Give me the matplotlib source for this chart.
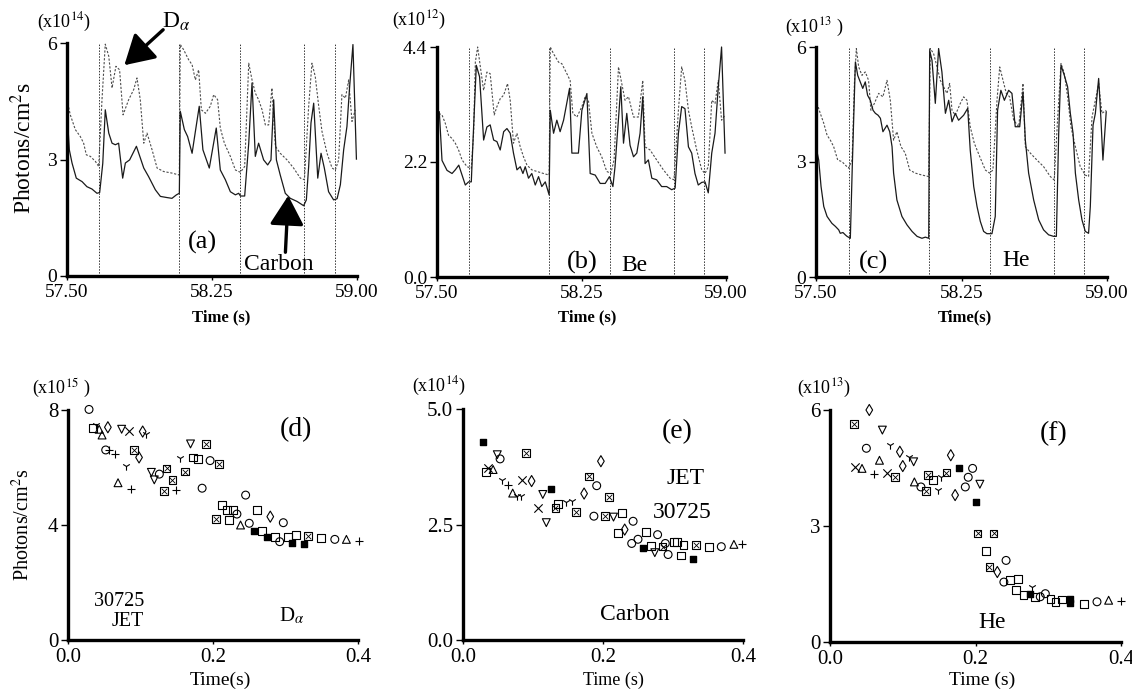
import matplotlib
matplotlib.use("Agg")
import matplotlib.pyplot as plt

plt.rcParams['font.family'] = ['Liberation Serif', 'DejaVu Serif']
plt.rcParams['mathtext.fontset'] = 'stix'

# ELM times (dotted vertical markers), same for all three top panels
elm_times = [57.668, 58.080, 58.396, 58.728, 58.884]

# (a) D-alpha (dotted) and carbon (solid), x1e14
a_solid_t = [57.500, 57.512, 57.526, 57.548, 57.578, 57.603, 57.629, 57.655, 57.669, 57.685, 57.698,
             57.716, 57.733, 57.750, 57.767, 57.788, 57.802, 57.824, 57.859, 57.897, 57.922, 57.957,
             57.983, 58.017, 58.043, 58.066, 58.081, 58.086, 58.107, 58.124, 58.147, 58.164, 58.184,
             58.203, 58.236, 58.272, 58.293, 58.319, 58.345, 58.371, 58.388, 58.397, 58.419, 58.440,
             58.457, 58.474, 58.491, 58.517, 58.538, 58.555, 58.569, 58.583, 58.603, 58.629, 58.655,
             58.690, 58.724, 58.738, 58.750, 58.762, 58.776, 58.797, 58.814, 58.831, 58.853, 58.879,
             58.897, 58.914, 58.931, 58.948, 58.962, 58.979, 58.997]
a_solid_v = [4.24, 3.25, 2.91, 2.52, 2.43, 2.30, 2.24, 2.13, 2.15, 2.90, 4.28,
             3.68, 3.42, 3.38, 3.42, 2.52, 2.91, 2.99, 3.34, 2.78, 2.56, 2.22,
             2.05, 2.02, 2.00, 2.09, 2.13, 4.24, 3.77, 3.59, 3.16, 3.72, 4.37,
             3.25, 2.78, 3.81, 2.73, 2.48, 2.17, 2.09, 2.13, 2.06, 2.06, 3.42,
             4.97, 3.08, 3.42, 2.99, 2.86, 2.99, 4.54, 2.99, 2.60, 2.13, 2.00,
             1.92, 1.81, 1.96, 2.82, 3.94, 4.45, 2.52, 3.16, 2.78, 2.17, 1.96,
             1.99, 2.35, 3.25, 3.85, 4.88, 5.96, 3.01]
a_dot_t = [57.500, 57.517, 57.543, 57.569, 57.586, 57.600, 57.621, 57.647, 57.664, 57.681, 57.698,
           57.716, 57.733, 57.753, 57.772, 57.790, 57.819, 57.845, 57.862, 57.879, 57.897, 57.914,
           57.940, 57.966, 58.000, 58.043, 58.081, 58.086, 58.103, 58.129, 58.147, 58.164, 58.181,
           58.195, 58.216, 58.241, 58.259, 58.279, 58.293, 58.314, 58.345, 58.371, 58.397, 58.419,
           58.440, 58.457, 58.474, 58.491, 58.509, 58.526, 58.543, 58.560, 58.578, 58.603, 58.638,
           58.672, 58.707, 58.728, 58.750, 58.767, 58.784, 58.802, 58.819, 58.845, 58.871, 58.888,
           58.905, 58.922, 58.940, 58.957, 58.974, 58.991]
a_dot_v = [4.54, 4.15, 3.77, 3.59, 3.42, 3.12, 3.08, 2.95, 2.82, 4.54, 5.97,
           5.66, 4.84, 5.40, 5.31, 4.15, 4.54, 4.80, 5.10, 4.54, 3.42, 3.68,
           3.25, 2.78, 2.69, 2.65, 2.60, 5.96, 5.83, 5.57, 5.44, 5.05, 5.31,
           4.28, 4.19, 4.37, 4.67, 4.54, 3.81, 3.42, 3.08, 2.73, 2.67, 2.82,
           5.48, 5.05, 4.71, 4.54, 4.28, 3.89, 3.89, 4.84, 3.34, 3.16, 2.99,
           2.78, 2.52, 2.48, 4.37, 5.48, 5.14, 4.37, 3.72, 3.16, 2.78, 2.73,
           2.99, 4.67, 4.58, 5.05, 3.98, 4.28]

# (b) Be, x1e12
b_solid_t = [57.512, 57.526, 57.552, 57.578, 57.595, 57.613, 57.630, 57.647, 57.664, 57.678, 57.690,
             57.704, 57.721, 57.742, 57.759, 57.776, 57.794, 57.811, 57.828, 57.846, 57.863, 57.880,
             57.897, 57.915, 57.932, 57.946, 57.958, 57.975, 57.992, 58.010, 58.027, 58.044, 58.062,
             58.082, 58.088, 58.105, 58.122, 58.139, 58.157, 58.188, 58.200, 58.234, 58.252, 58.278,
             58.295, 58.321, 58.347, 58.373, 58.395, 58.413, 58.424, 58.454, 58.468, 58.485, 58.502,
             58.520, 58.537, 58.554, 58.568, 58.580, 58.597, 58.615, 58.640, 58.666, 58.692, 58.718,
             58.736, 58.753, 58.770, 58.787, 58.805, 58.822, 58.839, 58.856, 58.874, 58.891, 58.908,
             58.926, 58.943, 58.960, 58.977, 58.995]
b_solid_v = [3.16, 2.23, 2.04, 1.98, 2.05, 2.14, 1.95, 1.76, 1.82, 1.82, 2.87,
             4.05, 3.83, 2.62, 2.87, 2.91, 2.62, 2.59, 2.43, 2.78, 2.84, 2.75,
             2.37, 2.05, 2.11, 1.98, 2.11, 1.89, 1.98, 1.76, 1.92, 1.73, 1.82,
             1.57, 3.19, 2.75, 3.00, 2.78, 3.00, 3.61, 2.37, 2.37, 3.19, 3.51,
             1.98, 1.95, 1.79, 1.79, 1.92, 1.73, 2.11, 3.64, 2.56, 3.13, 2.52,
             2.30, 2.37, 2.75, 3.45, 2.17, 2.24, 1.89, 1.86, 1.73, 1.73, 1.67,
             1.70, 2.75, 3.26, 3.22, 2.49, 2.37, 1.98, 1.76, 1.81, 1.82, 1.61,
             2.37, 2.75, 3.64, 4.40, 2.37]
b_dot_t = [57.509, 57.526, 57.543, 57.560, 57.578, 57.595, 57.612, 57.630, 57.656, 57.678, 57.690,
           57.699, 57.711, 57.725, 57.742, 57.759, 57.776, 57.797, 57.811, 57.828, 57.846, 57.866,
           57.880, 57.897, 57.915, 57.932, 57.949, 57.967, 57.992, 58.018, 58.053, 58.082, 58.088,
           58.105, 58.131, 58.148, 58.174, 58.191, 58.205, 58.226, 58.252, 58.269, 58.286, 58.304,
           58.329, 58.355, 58.381, 58.402, 58.419, 58.442, 58.459, 58.476, 58.494, 58.520, 58.545,
           58.568, 58.580, 58.606, 58.640, 58.675, 58.710, 58.730, 58.753, 58.770, 58.787, 58.805,
           58.822, 58.848, 58.874, 58.891, 58.908, 58.926, 58.943, 58.960, 58.977, 58.995]
b_dot_v = [3.13, 3.10, 2.94, 2.71, 2.65, 2.56, 2.43, 2.24, 2.11, 2.08, 2.75,
           4.11, 4.40, 4.02, 3.57, 3.92, 3.89, 3.10, 3.26, 3.41, 3.48, 3.70,
           3.38, 2.56, 2.75, 2.49, 2.30, 2.14, 2.05, 2.02, 1.98, 1.95, 4.40,
           4.27, 4.11, 4.08, 3.89, 3.76, 3.13, 3.06, 3.26, 3.45, 3.38, 2.75,
           2.49, 2.30, 2.02, 1.98, 2.24, 4.02, 3.70, 3.38, 3.45, 3.06, 3.06,
           3.76, 2.49, 2.43, 2.24, 2.05, 1.89, 1.86, 3.19, 4.02, 3.76, 3.19,
           2.87, 2.43, 2.05, 1.98, 2.11, 3.38, 3.32, 3.76, 3.00, 3.10]

# (c) He, x1e13
c_solid_t = [57.505, 57.514, 57.526, 57.540, 57.557, 57.582, 57.600, 57.617, 57.625, 57.639, 57.651,
             57.660, 57.677, 57.687, 57.703, 57.715, 57.728, 57.741, 57.754, 57.766, 57.780, 57.794,
             57.806, 57.820, 57.832, 57.845, 57.866, 57.880, 57.892, 57.900, 57.917, 57.943, 57.969,
             57.995, 58.021, 58.046, 58.064, 58.081, 58.086, 58.098, 58.115, 58.132, 58.149, 58.167,
             58.184, 58.201, 58.218, 58.235, 58.261, 58.282, 58.295, 58.313, 58.330, 58.347, 58.364,
             58.381, 58.407, 58.424, 58.436, 58.453, 58.471, 58.493, 58.510, 58.527, 58.550, 58.567,
             58.579, 58.596, 58.622, 58.648, 58.673, 58.699, 58.725, 58.739, 58.751, 58.763, 58.780,
             58.797, 58.811, 58.825, 58.837, 58.854, 58.871, 58.888, 58.905, 58.914, 58.928, 58.940,
             58.957, 58.969, 58.979, 58.996]
c_solid_v = [3.27, 3.05, 2.36, 1.84, 1.58, 1.40, 1.32, 1.23, 1.14, 1.16, 1.10,
             1.06, 1.01, 2.88, 5.61, 5.26, 5.09, 4.92, 5.09, 4.74, 4.61, 4.35,
             4.27, 4.22, 4.14, 3.79, 3.96, 3.79, 3.40, 2.71, 2.01, 1.58, 1.36,
             1.19, 1.06, 1.01, 1.04, 1.01, 5.91, 5.65, 4.53, 5.96, 5.35, 4.27,
             4.61, 4.05, 4.27, 4.09, 4.22, 4.40, 3.31, 2.36, 1.84, 1.45, 1.19,
             1.13, 1.13, 1.58, 4.35, 4.87, 4.61, 4.87, 4.79, 3.92, 3.92, 4.83,
             3.57, 2.71, 2.01, 1.49, 1.23, 1.10, 1.06, 1.06, 3.75, 5.52, 5.26,
             4.96, 4.27, 3.75, 2.71, 2.01, 1.49, 1.19, 1.14, 1.84, 3.96, 4.27,
             5.18, 4.09, 3.05, 4.31]
c_dot_t = [57.505, 57.522, 57.540, 57.557, 57.574, 57.591, 57.612, 57.634, 57.651, 57.668, 57.686,
           57.698, 57.708, 57.720, 57.737, 57.754, 57.771, 57.783, 57.801, 57.823, 57.845, 57.866,
           57.883, 57.900, 57.917, 57.938, 57.960, 57.983, 58.012, 58.046, 58.081, 58.089, 58.106,
           58.124, 58.141, 58.158, 58.175, 58.189, 58.201, 58.218, 58.244, 58.261, 58.278, 58.295,
           58.316, 58.344, 58.373, 58.395, 58.412, 58.433, 58.447, 58.464, 58.481, 58.498, 58.519,
           58.545, 58.567, 58.579, 58.605, 58.639, 58.673, 58.708, 58.728, 58.746, 58.763, 58.780,
           58.797, 58.814, 58.837, 58.862, 58.888, 58.905, 58.923, 58.940, 58.957, 58.974, 58.996]
c_dot_v = [4.53, 4.27, 4.01, 3.70, 3.57, 3.40, 3.05, 3.01, 2.92, 2.84, 3.05,
           5.05, 5.96, 5.48, 5.26, 5.35, 5.13, 4.35, 4.53, 4.79, 4.70, 5.13,
           4.61, 3.57, 3.79, 3.40, 3.23, 2.79, 2.71, 2.66, 2.62, 5.96, 5.83,
           5.48, 5.13, 4.96, 4.79, 5.05, 4.35, 4.22, 4.53, 4.70, 4.61, 3.92,
           3.49, 3.14, 2.79, 2.71, 2.79, 4.61, 5.48, 5.13, 4.79, 4.70, 4.09,
           3.92, 5.05, 3.40, 3.23, 3.05, 2.88, 2.62, 2.53, 4.18, 5.57, 5.31,
           4.70, 3.92, 3.40, 2.88, 2.66, 2.62, 4.18, 4.61, 5.05, 4.27, 4.35]

# marker codes: o circle, s square, ^ up, v down, d diamond, x, +, 1 tri,
# b boxed square, f small filled square
# (d) D-alpha vs time after ELM, x1e15
d_t = [0.029, 0.034, 0.038, 0.043, 0.047, 0.055, 0.052, 0.057, 0.065, 0.069, 0.074, 0.084,
       0.080, 0.087, 0.091, 0.098, 0.103, 0.108, 0.115, 0.119, 0.126, 0.132, 0.136, 0.144,
       0.149, 0.154, 0.161, 0.169, 0.172, 0.179, 0.185, 0.190, 0.196, 0.208, 0.204, 0.213,
       0.219, 0.227, 0.222, 0.233, 0.238, 0.245, 0.250, 0.256, 0.261, 0.268, 0.274, 0.279,
       0.285, 0.292, 0.297, 0.303, 0.309, 0.315, 0.326, 0.331, 0.349, 0.368, 0.384, 0.401]
d_v = [8.02, 7.36, 7.48, 7.33, 7.13, 7.40, 6.61, 6.61, 6.47, 5.47, 7.33, 7.28,
       6.05, 5.24, 6.61, 6.35, 7.25, 7.17, 5.83, 5.57, 5.77, 5.19, 5.97, 5.57,
       5.22, 6.32, 5.86, 6.82, 6.35, 6.31, 5.28, 6.82, 6.24, 6.12, 4.20, 4.70,
       4.52, 4.52, 4.17, 4.38, 4.00, 5.04, 4.06, 3.79, 4.52, 3.80, 3.57, 4.29,
       3.59, 3.42, 4.08, 3.59, 3.39, 3.65, 3.34, 3.62, 3.54, 3.50, 3.50, 3.46]
d_m = ['o', 's', '1', '^', '^', 'd', 'o', '+', '+', '^', 'v', 'x',
       '1', '+', 'b', 'd', 'd', '1', 'v', 'v', 'o', 'b', 'b', 'b',
       '+', '1', 'b', 'v', 's', 's', 'o', 'b', 'o', 'b', 'b', 's',
       's', 's', 's', 'o', '^', 'o', 'o', 'f', 's', 's', 'f', 'd',
       's', 'o', 'o', 's', 'f', 's', 'f', 'b', 's', 'o', '^', '+']

# (e) carbon, x1e14
e_t = [0.029, 0.033, 0.036, 0.043, 0.053, 0.049, 0.090, 0.055, 0.064, 0.071, 0.077, 0.083,
       0.084, 0.098, 0.107, 0.114, 0.119, 0.125, 0.132, 0.136, 0.147, 0.155, 0.161, 0.173,
       0.180, 0.187, 0.191, 0.197, 0.203, 0.209, 0.215, 0.227, 0.222, 0.231, 0.243, 0.241,
       0.250, 0.257, 0.261, 0.269, 0.274, 0.278, 0.285, 0.289, 0.293, 0.301, 0.306, 0.312,
       0.315, 0.329, 0.333, 0.351, 0.369, 0.387, 0.398]
e_v = [4.29, 3.63, 3.72, 3.69, 3.92, 4.01, 4.05, 3.47, 3.36, 3.18, 3.11, 3.11,
       3.46, 3.44, 2.86, 3.15, 2.54, 3.26, 2.86, 2.95, 2.98, 3.00, 2.77, 3.17,
       3.54, 2.68, 3.34, 3.87, 2.68, 3.10, 2.66, 2.74, 2.32, 2.39, 2.57, 2.09,
       2.18, 2.00, 2.34, 2.03, 1.89, 2.28, 2.02, 2.09, 1.85, 2.12, 2.12, 1.83,
       2.05, 1.76, 2.05, 2.02, 2.02, 2.07, 2.08]
e_m = ['f', 's', 'x', '^', 'o', 'v', 'b', '1', '+', '^', '1', '1',
       'x', 'd', 'x', 'v', 'v', 'f', 'b', 's', '1', '1', 'b', 'd',
       'b', 'o', 'o', 'd', 'b', 'b', 'v', 's', 's', 'd', 'o', 'o',
       'o', 'f', 's', 's', 'v', 'o', 'b', 'o', 'o', 's', 's', 's',
       's', 'f', 'b', 's', 'o', '^', '+']

# (f) He, x1e13
f_t = [0.033, 0.054, 0.072, 0.034, 0.044, 0.050, 0.068, 0.061, 0.078, 0.089, 0.083, 0.096,
       0.100, 0.109, 0.115, 0.116, 0.125, 0.132, 0.135, 0.142, 0.149, 0.152, 0.160, 0.166,
       0.172, 0.186, 0.177, 0.190, 0.196, 0.206, 0.201, 0.203, 0.225, 0.215, 0.219, 0.242,
       0.230, 0.239, 0.247, 0.259, 0.256, 0.266, 0.278, 0.275, 0.282, 0.289, 0.296, 0.303,
       0.310, 0.319, 0.330, 0.330, 0.349, 0.367, 0.383, 0.400]
f_v = [5.64, 6.00, 5.48, 4.53, 4.49, 5.01, 4.70, 4.34, 4.38, 4.26, 5.09, 4.92,
       4.55, 4.79, 4.66, 4.14, 4.01, 3.91, 4.32, 4.20, 3.93, 4.26, 4.38, 4.83,
       3.80, 4.01, 4.51, 4.26, 4.49, 4.08, 3.61, 2.81, 2.81, 2.35, 1.94, 2.11,
       1.81, 1.55, 1.61, 1.64, 1.34, 1.21, 1.42, 1.25, 1.17, 1.17, 1.25, 1.12,
       1.04, 1.10, 1.10, 1.01, 0.99, 1.04, 1.08, 1.06]
f_m = ['b', 'd', 'v', 'x', '^', 'o', '^', '+', 'x', 'b', '1', 'd',
       'd', '1', 'v', '^', 'o', 'b', 'b', 's', '1', '1', 'b', 'd',
       'd', 'o', 'f', 'o', 'o', 'v', 'f', 'b', 'b', 's', 'b', 'o',
       'd', 'o', 's', 's', 's', 's', '1', 'f', 's', 'o', 'o', 's',
       's', 's', 'f', 'f', 's', 'o', '^', '+']

W, H = 1132, 689
fig = plt.figure(figsize=(W / 100, H / 100), dpi=100)


def box(l, t, r, b):
    return [l / W, 1 - b / H, (r - l) / W, (b - t) / H]


def ftext(x, y, s, size, **kw):
    fig.text(x / W, 1 - y / H, s, fontsize=size, ha=kw.pop('ha', 'center'),
             va=kw.pop('va', 'center'), **kw)


def style(ax, xlim, ylim, xticks, xlabels, yticks, ylabels, fs):
    ax.set_xlim(*xlim)
    ax.set_ylim(*ylim)
    for s in ['top', 'right']:
        ax.spines[s].set_visible(False)
    for s in ['left', 'bottom']:
        ax.spines[s].set_linewidth(2.4)
    ax.set_xticks(xticks)
    ax.set_xticklabels(xlabels, fontsize=fs)
    ax.set_yticks(yticks)
    ax.set_yticklabels(ylabels, fontsize=fs)
    ax.tick_params(axis='y', length=5, width=1, pad=2)
    ax.tick_params(axis='x', length=3, width=1, pad=3)
    ax.patch.set_alpha(0)


def top_panel(pos, st, sv, dt, dv, ymax, yticks, ylabels):
    ax = fig.add_axes(box(*pos))
    for t in elm_times:
        ax.axvline(t, color='0.2', lw=0.7, ls=(0, (1.5, 1.5)))
    ax.plot(dt, dv, color='0.3', lw=0.8, ls=(0, (2, 1.5)), clip_on=False)
    ax.plot(st, sv, color='0.1', lw=0.9, clip_on=False)
    style(ax, (57.5, 59.0), (0, ymax), [57.5, 58.25, 59.0], ['57.50', '58.25', '59.00'],
          yticks, ylabels, 14)
    return ax


def scatter_panel(pos, ts, vs, ms, ymax, yticks, ylabels):
    ax = fig.add_axes(box(*pos))
    for code in sorted(set(ms)):
        x = [ts[i] for i in range(len(ts)) if ms[i] == code]
        y = [vs[i] for i in range(len(ts)) if ms[i] == code]
        if code == 'b':
            ax.scatter(x, y, marker='s', s=30, facecolors='none', edgecolors='k', lw=0.8, clip_on=False)
            ax.scatter(x, y, marker='x', s=16, c='k', lw=0.6, clip_on=False)
        elif code == 'f':
            ax.scatter(x, y, marker='s', s=14, c='k', clip_on=False)
        elif code in ['x', '+', '1']:
            ax.scatter(x, y, marker=code, s=36, c='k', lw=0.8, clip_on=False)
        else:
            ax.scatter(x, y, marker=code, s=32, facecolors='none', edgecolors='k', lw=0.8,
                       clip_on=False)
    style(ax, (0, 0.4), (0, ymax), [0, 0.2, 0.4], ['0.0', '0.2', '0.4'], yticks, ylabels, 15)
    return ax


ax_a = top_panel((67, 43, 357, 276), a_solid_t, a_solid_v, a_dot_t, a_dot_v, 6, [0, 3, 6], ['0', '3', '6'])
ax_b = top_panel((437, 47, 726, 277), b_solid_t, b_solid_v, b_dot_t, b_dot_v, 4.4, [0, 2.2, 4.4],
                 ['0.0', '2.2', '4.4'])
ax_c = top_panel((816, 47, 1107, 277), c_solid_t, c_solid_v, c_dot_t, c_dot_v, 6, [0, 3, 6], ['0', '3', '6'])

ax_d = scatter_panel((68, 410, 358, 640), d_t, d_v, d_m, 8, [0, 4, 8], ['0', '4', '8'])
ax_e = scatter_panel((463, 409, 743, 640), e_t, e_v, e_m, 5, [0, 2.5, 5], ['0.0', '2.5', '5.0'])
ax_f = scatter_panel((830, 410, 1121, 642), f_t, f_v, f_m, 6, [0, 3, 6], ['0', '3', '6'])

# arrows in (a)
ax_a.annotate('', xy=(57.786, 5.38), xytext=(58.008, 6.39), annotation_clip=False,
              arrowprops=dict(arrowstyle='-|>,head_length=0.6,head_width=0.35', lw=2.4,
                              color='k', mutation_scale=30))
ax_a.annotate('', xy=(58.645, 2.14), xytext=(58.629, 0.54), annotation_clip=False,
              arrowprops=dict(arrowstyle='-|>,head_length=0.6,head_width=0.35', lw=2.4,
                              color='k', mutation_scale=30))

# exponents
ftext(37, 22, r'(x10$^{14}$)', 13, ha='left')
ftext(392, 20, r'(x10$^{12}$)', 13, ha='left')
ftext(785, 27, r'(x10$^{13}$ )', 13, ha='left')
ftext(32, 388, r'(x10$^{15}$ )', 13, ha='left')
ftext(412, 386, r'(x10$^{14}$)', 13, ha='left')
ftext(797, 388, r'(x10$^{13}$)', 13, ha='left')

# y labels
ftext(23, 148, r'Photons/cm$^2$s', 17, rotation=90)
ftext(23, 525, r'Photons/cm$^2$s', 14.5, rotation=90)

# x labels
ftext(221, 317, 'Time (s)', 12, weight='bold')
ftext(587, 317, 'Time (s)', 12, weight='bold')
ftext(965, 317, 'Time(s)', 12, weight='bold')
ftext(220, 680, 'Time(s)', 14)
ftext(613, 680, 'Time (s)', 13)
ftext(982, 680, 'Time (s)', 14)

# panel annotations
ftext(202, 242, '(a)', 19)
ftext(279, 264, 'Carbon', 17)
ftext(176, 22, r'D$_{\alpha}$', 17)
ftext(582, 262, '(b)', 19)
ftext(634, 266, 'Be', 17)
ftext(873, 262, '(c)', 19)
ftext(1016, 260, 'He', 17)
ftext(296, 430, '(d)', 20)
ftext(119, 601, '30725', 14.5)
ftext(128, 621, 'JET', 14.5)
ftext(292, 616, r'D$_{\alpha}$', 15)
ftext(677, 432, '(e)', 20)
ftext(686, 478, 'JET', 17)
ftext(682, 512, '30725', 17)
ftext(635, 614, 'Carbon', 17)
ftext(1054, 434, '(f)', 20)
ftext(992, 623, 'He', 17)

fig.savefig('out.png', dpi=100)
